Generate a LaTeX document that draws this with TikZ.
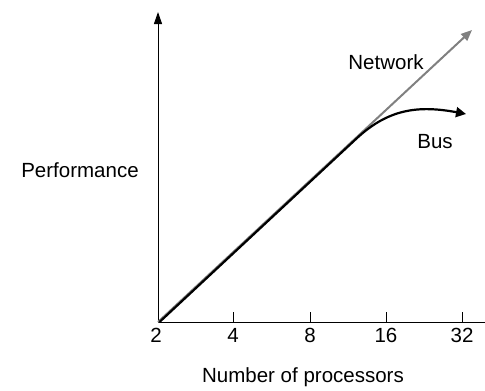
\documentclass[tikz,border=0pt]{standalone}
\usepackage{fontspec}
\setmainfont{Liberation Sans}
\usetikzlibrary{arrows.meta}
\begin{document}
\begin{tikzpicture}[x=1pt,y=-1pt,
  lbl/.style={font=\fontsize{20.5}{24}\selectfont, inner sep=0pt},
  axis/.style={line width=1pt},
  tick/.style={line width=1pt}]
\useasboundingbox (0,0) rectangle (485,391);
\coordinate (O) at (158,322);
\coordinate (Ob) at (159.5,322);
\coordinate (Ytop) at (158,12);
\coordinate (Xend) at (485,322);
\draw[axis,-{Triangle[width=8pt,length=12pt]}] (O) -- (Ytop);
\draw[axis] (O) -- (Xend);
\foreach \x/\t/\n in {233/4/a,310/8/b,386/16/c,462/32/d}{
  \draw[tick] (\x,322) -- (\x,312);
  \node[lbl] (t\n) at (\x,335) {\t};
}
\node[lbl] (t0) at (156,335) {2};
\coordinate (Nend) at (472,30);
\draw[gray!75!black!80,line width=2pt,-{Triangle[width=9pt,length=11pt]}] (O) -- (Nend);
\coordinate (Bk) at (356,139);
\coordinate (Bend) at (466,114);
\draw[black,line width=2.2pt,-{Triangle[width=10pt,length=10pt]}] (Ob) -- (Bk) .. controls (388,109) and (418,105) .. (Bend);
\node[lbl] (net) at (386,62) {Network};
\node[lbl] (bus) at (435,142) {Bus};
\node[lbl] (perf) at (80,170) {Performance};
\node[lbl] (nproc) at (303,377) {Number of processors};
\end{tikzpicture}
\end{document}
